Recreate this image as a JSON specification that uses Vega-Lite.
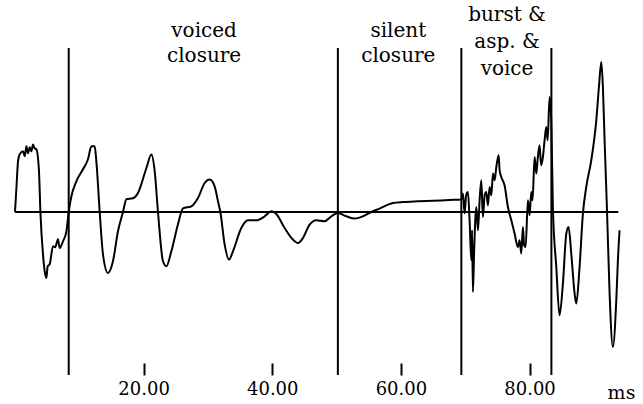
{
  "$schema": "https://vega.github.io/schema/vega-lite/v6.json",
  "width": 611,
  "height": 375,
  "autosize": {"type": "none"},
  "padding": {"left": 15, "top": 0, "right": 17, "bottom": 29},
  "background": "white",
  "config": {"view": {"stroke": null}, "font": "DejaVu Serif"},
  "datasets": {
    "wave": [
      {"t": 0.0, "a": 0}, {"t": 0.22, "a": 24}, {"t": 0.47, "a": 50.7}, {"t": 0.73, "a": 57.7},
      {"t": 1.24, "a": 60.7}, {"t": 1.51, "a": 55.7}, {"t": 1.77, "a": 65.7}, {"t": 2.02, "a": 58.7},
      {"t": 2.29, "a": 64.7}, {"t": 2.55, "a": 60.7}, {"t": 2.8, "a": 67.4}, {"t": 3.06, "a": 63.7},
      {"t": 3.33, "a": 62.7}, {"t": 3.73, "a": 40.7}, {"t": 3.95, "a": 0}, {"t": 4.35, "a": -42.3},
      {"t": 4.62, "a": -59.3}, {"t": 4.88, "a": -66}, {"t": 5.08, "a": -54.3}, {"t": 5.39, "a": -52.3},
      {"t": 5.91, "a": -34.3}, {"t": 6.25, "a": -35.3}, {"t": 6.68, "a": -27.3}, {"t": 6.95, "a": -36},
      {"t": 7.46, "a": -29.3}, {"t": 7.99, "a": -19.3}, {"t": 8.35, "a": 0}, {"t": 8.77, "a": 15.7},
      {"t": 9.54, "a": 30.7}, {"t": 10.57, "a": 42.7}, {"t": 11.35, "a": 52.7}, {"t": 11.88, "a": 65.7},
      {"t": 12.39, "a": 65.7}, {"t": 12.65, "a": 50.7}, {"t": 13.17, "a": 0}, {"t": 13.68, "a": -42.3},
      {"t": 14.46, "a": -61}, {"t": 15.23, "a": -49.3}, {"t": 16.01, "a": -19.3}, {"t": 16.79, "a": 0},
      {"t": 17.32, "a": 12.7}, {"t": 18.34, "a": 13.7}, {"t": 19.12, "a": 19}, {"t": 20.43, "a": 44},
      {"t": 21.2, "a": 57.4}, {"t": 21.72, "a": 40.7}, {"t": 22.23, "a": 0}, {"t": 23.01, "a": -49.3},
      {"t": 23.54, "a": -54.3}, {"t": 24.31, "a": -39.3}, {"t": 25.34, "a": -12.3}, {"t": 26.12, "a": 3.7},
      {"t": 27.42, "a": 5.7}, {"t": 28.45, "a": 14}, {"t": 29.49, "a": 29}, {"t": 30.27, "a": 32.4},
      {"t": 31.04, "a": 25.7}, {"t": 31.56, "a": 10.7}, {"t": 31.93, "a": 0}, {"t": 32.6, "a": -32.6},
      {"t": 33.27, "a": -47.6}, {"t": 33.89, "a": -39.3}, {"t": 35.19, "a": -16}, {"t": 36.22, "a": -8.3},
      {"t": 37.53, "a": -8.3}, {"t": 38.82, "a": -4.3}, {"t": 39.86, "a": 0.7}, {"t": 40.63, "a": -2},
      {"t": 41.92, "a": -16}, {"t": 43.21, "a": -27.6}, {"t": 43.99, "a": -31}, {"t": 44.77, "a": -26},
      {"t": 45.81, "a": -12.6}, {"t": 46.85, "a": -8.3}, {"t": 48.14, "a": -9.3}, {"t": 49.18, "a": -4.3},
      {"t": 50.21, "a": -1}, {"t": 51.51, "a": -4.3}, {"t": 52.81, "a": -6.6}, {"t": 54.1, "a": -4.3},
      {"t": 55.4, "a": 0}, {"t": 56.69, "a": 3.4}, {"t": 58.76, "a": 9}, {"t": 60.32, "a": 10},
      {"t": 62.65, "a": 10.7}, {"t": 64.98, "a": 11.2}, {"t": 67.57, "a": 12}, {"t": 69.39, "a": 12.4},
      {"t": 69.64, "a": 18.4}, {"t": 69.91, "a": -1.3}, {"t": 70.14, "a": 16.7}, {"t": 70.42, "a": 20},
      {"t": 70.68, "a": -8.3}, {"t": 70.95, "a": -48.3}, {"t": 71.07, "a": -18.3}, {"t": 71.2, "a": -80},
      {"t": 71.39, "a": -38.3}, {"t": 71.73, "a": 5}, {"t": 71.98, "a": -18.3}, {"t": 72.24, "a": 11.7},
      {"t": 72.5, "a": 31.7}, {"t": 72.75, "a": -5}, {"t": 73.02, "a": 16.7}, {"t": 73.28, "a": 20},
      {"t": 73.53, "a": 6.7}, {"t": 73.79, "a": 25}, {"t": 74.06, "a": 16.7}, {"t": 74.31, "a": 38.4},
      {"t": 74.57, "a": 31.7}, {"t": 74.84, "a": 45}, {"t": 75.2, "a": 56.7}, {"t": 75.35, "a": 41.7},
      {"t": 75.61, "a": 35}, {"t": 76.12, "a": 26.7}, {"t": 76.64, "a": 5}, {"t": 77.17, "a": -8.3},
      {"t": 77.68, "a": -21.6}, {"t": 78.19, "a": -35}, {"t": 78.46, "a": -28.3}, {"t": 78.72, "a": -41.6},
      {"t": 78.97, "a": -15}, {"t": 79.16, "a": -33.3}, {"t": 79.39, "a": -35}, {"t": 79.75, "a": 11.7},
      {"t": 80.01, "a": -3.3}, {"t": 80.27, "a": 20}, {"t": 80.47, "a": 11.7}, {"t": 80.79, "a": 55},
      {"t": 81.05, "a": 38.4}, {"t": 81.25, "a": 51.7}, {"t": 81.56, "a": 66.7}, {"t": 81.8, "a": 46.7},
      {"t": 82.08, "a": 55}, {"t": 82.34, "a": 71.7}, {"t": 82.6, "a": 85}, {"t": 82.81, "a": 71.7},
      {"t": 83.12, "a": 115}, {"t": 83.38, "a": 91.7}, {"t": 83.63, "a": 5}, {"t": 84.16, "a": -55},
      {"t": 84.67, "a": -103.3}, {"t": 85.19, "a": -71.6}, {"t": 85.72, "a": -21.6}, {"t": 86.07, "a": -15},
      {"t": 86.49, "a": -41.6}, {"t": 87.01, "a": -81.6}, {"t": 87.27, "a": -91.6}, {"t": 87.78, "a": -55},
      {"t": 88.3, "a": -1.6}, {"t": 88.82, "a": 25}, {"t": 89.6, "a": 51.7}, {"t": 90.38, "a": 91.7},
      {"t": 90.79, "a": 125}, {"t": 91.16, "a": 150}, {"t": 91.41, "a": 125}, {"t": 91.67, "a": 71.7},
      {"t": 92.03, "a": 5}, {"t": 92.45, "a": -81.6}, {"t": 92.96, "a": -135}, {"t": 93.49, "a": -88.3},
      {"t": 93.74, "a": -48.3}, {"t": 94.0, "a": -18.3}
    ],
    "bounds": [
      {"t": 8.35, "top": 164, "bottom": -163},
      {"t": 50.2, "top": 164, "bottom": -163},
      {"t": 69.4, "top": 164, "bottom": -163},
      {"t": 83.4, "top": 164, "bottom": -163}
    ],
    "phases": [
      {"t": 29.4, "a": 175.3, "label": "voiced\nclosure"},
      {"t": 59.6, "a": 175.3, "label": "silent\nclosure"}
    ],
    "phases3": [
      {"t": 76.5, "a": 191.5, "label": "burst &\nasp. &\nvoice"}
    ],
    "baseline": [
      {"t": 0, "t2": 93.8, "a": 0}
    ]
  },
  "encoding": {
    "x": {
      "field": "t", "type": "quantitative",
      "scale": {"domain": [0, 95], "nice": false, "zero": false},
      "axis": {
        "values": [20, 40, 60, 80], "format": ".2f",
        "domain": false, "grid": false,
        "tickSize": -12, "tickWidth": 2, "tickColor": "black",
        "labelFont": "DejaVu Serif", "labelFontSize": 18, "labelColor": "black",
        "labelPadding": 17, "labelBaseline": "top",
        "title": "ms", "titleFont": "DejaVu Serif", "titleFontSize": 19,
        "titleFontWeight": "normal", "titleColor": "black",
        "titleX": 606, "titleY": 23, "titleAlign": "center", "titleBaseline": "alphabetic"
      }
    }
  },
  "layer": [
    {
      "data": {"name": "wave"},
      "mark": {"type": "line", "color": "black", "strokeWidth": 2, "interpolate": "monotone"},
      "encoding": {
        "y": {
          "field": "a", "type": "quantitative",
          "scale": {"domain": [-163, 212], "nice": false, "zero": false},
          "axis": null
        }
      }
    },
    {
      "data": {"name": "baseline"},
      "mark": {"type": "rule", "color": "black", "strokeWidth": 2},
      "encoding": {
        "x2": {"field": "t2"},
        "y": {"field": "a", "type": "quantitative", "axis": null}
      }
    },
    {
      "data": {"name": "bounds"},
      "mark": {"type": "rule", "color": "black", "strokeWidth": 2},
      "encoding": {
        "y": {"field": "top", "type": "quantitative", "axis": null},
        "y2": {"field": "bottom"}
      }
    },
    {
      "data": {"name": "phases"},
      "mark": {"type": "text", "font": "DejaVu Serif", "fontSize": 20, "color": "black",
               "align": "center", "baseline": "alphabetic", "lineBreak": "\n", "lineHeight": 25},
      "encoding": {
        "y": {"field": "a", "type": "quantitative", "axis": null},
        "text": {"field": "label"}
      }
    },
    {
      "data": {"name": "phases3"},
      "mark": {"type": "text", "font": "DejaVu Serif", "fontSize": 20, "color": "black",
               "align": "center", "baseline": "alphabetic", "lineBreak": "\n", "lineHeight": 27},
      "encoding": {
        "y": {"field": "a", "type": "quantitative", "axis": null},
        "text": {"field": "label"}
      }
    }
  ]
}
